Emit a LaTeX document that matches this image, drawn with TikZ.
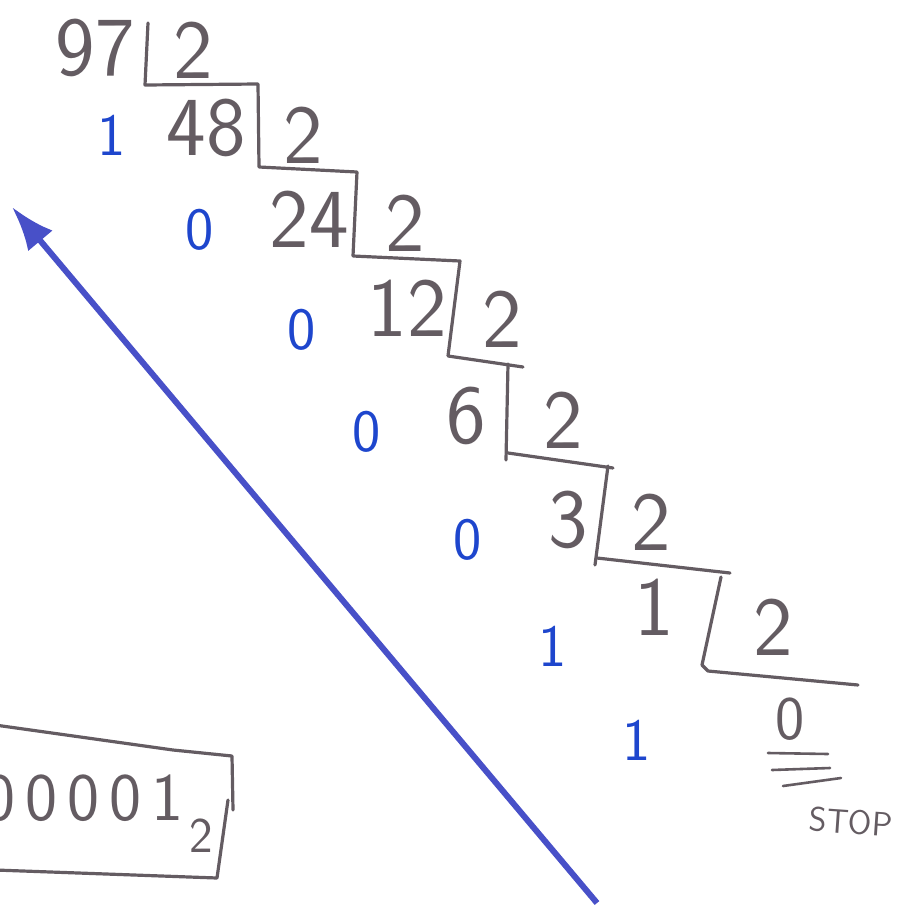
\documentclass[tikz,border=0pt]{standalone}
\usepackage{fontspec}
\newfontfamily\hand{lmsans17-regular.otf}
\usetikzlibrary{arrows.meta}
\definecolor{ink}{RGB}{100,92,98}
\definecolor{bink}{RGB}{30,70,205}
\definecolor{aink}{RGB}{72,80,200}
\tikzset{
  num/.style={text=ink,font=\hand\fontsize{84}{86}\selectfont,inner sep=0pt},
  rem/.style={text=bink,font=\hand\fontsize{60}{62}\selectfont,inner sep=0pt},
  stair/.style={draw=ink,line width=3.2pt,line cap=round,line join=round},
  arr/.style={-{Latex[length=44pt,width=32pt]},draw=aink,line width=6pt},
}
\newcommand{\dsep}{\kern10pt}

\begin{document}
\begin{tikzpicture}[x=1pt,y=-1pt]
 \useasboundingbox (0,0) rectangle (898,908);
 \clip (0,0) rectangle (898,908);
 % quotients and divisors
 \node[num] (q0) at (95,48) {97};
 \node[num] (t0) at (193,50) {2};
 \node[num] (q1) at (206,128) {48};
 \node[num] (t1) at (303,135) {2};
 \node[num] (q2) at (309,219) {24};
 \node[num] (t2) at (405,223) {2};
 \node[num] (q3) at (407,308) {12};
 \node[num] (t3) at (502,319) {2};
 \node[num] (q4) at (466,416) {6};
 \node[num] (t4) at (563,420) {2};
 \node[num] (q5) at (568,520) {3};
 \node[num] (t5) at (651,522) {2};
 \node[num] (q6) at (654,607) {1};
 \node[num] (t6) at (773,627) {2};
 \node[num,font=\hand\fontsize{62}{64}\selectfont] (q7) at (790,719) {0};
 % the steps
 \draw[stair] (148,23) -- (145,85) -- (258,84) -- (259,167) -- (357,172) -- (353,256) -- (460,261) -- (448,356) -- (523,367);
 \draw[stair] (508,364) -- (506,460);
 \draw[stair] (508,453) -- (613,468);
 \draw[stair] (608,466) -- (595,565);
 \draw[stair] (597,558) -- (730,573);
 \draw[stair] (721,577) -- (702,665) -- (708,671) -- (858,685);
 % remainders
 \node[rem] (r0) at (112,135) {1};
 \node[rem] (r1) at (200,230) {0};
 \node[rem] (r2) at (302,330) {0};
 \node[rem] (r3) at (367,432) {0};
 \node[rem] (r4) at (468,540) {0};
 \node[rem] (r5) at (553,646) {1};
 \node[rem] (r6) at (637,740) {1};
 % stop mark
 \draw[stair,line width=2.6pt] (768,753) -- (828,754);
 \draw[stair,line width=2.6pt] (772,770) -- (830,768);
 \draw[stair,line width=2.6pt] (783,786) -- (841,778);
 \node[text=ink,font=\hand\fontsize{34}{36}\selectfont,inner sep=0pt,rotate=-4] (stop) at (851,822) {STOP};
 % read upwards
 \coordinate (tail) at (597,903);
 \coordinate (tip) at (12,207);
 \draw[arr] (tail) -- (tip);
 % result
 \draw[stair] (-5,725) -- (173,750) -- (232,756) -- (233,810);
 \draw[stair] (228,800) -- (217,878) -- (-5,870);
 \node[text=ink,inner sep=0pt,anchor=base east] (res) at (213,820)
   {\hand\fontsize{68}{70}\selectfont 1\dsep1\dsep0\dsep0\dsep0\dsep0\dsep1\kern6pt\raisebox{-32pt}{\fontsize{50}{52}\selectfont 2}};
\end{tikzpicture}
\end{document}
